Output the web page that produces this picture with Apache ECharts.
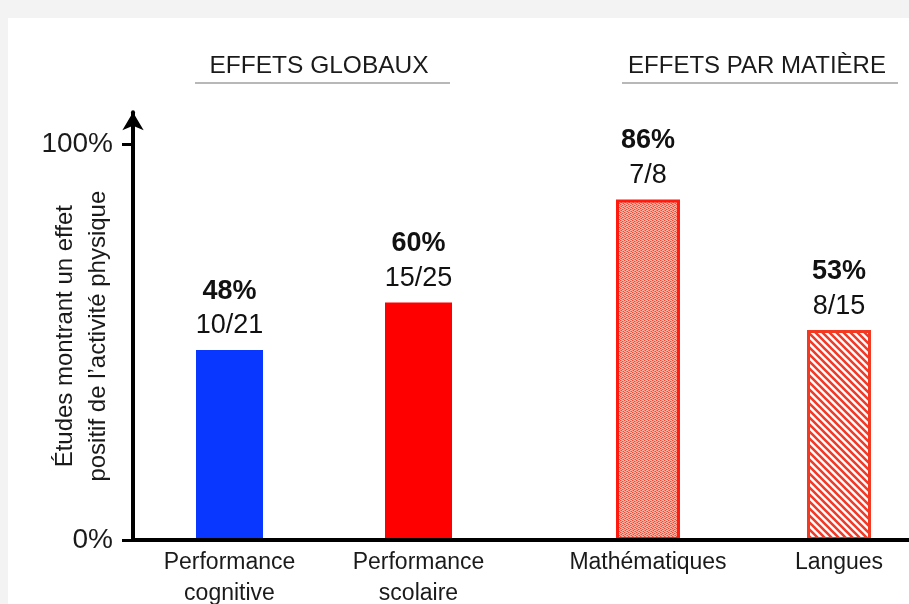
<!DOCTYPE html>
<html>
<head>
<meta charset="utf-8">
<script src="https://cdn.jsdelivr.net/npm/echarts@6/dist/echarts.min.js"></script>
<style>
  html, body { margin: 0; padding: 0; background: #f3f3f3; }
  #panel { position: absolute; left: 8px; top: 18px; right: 0; bottom: 0; background: #ffffff; }
  #chart { position: absolute; left: 0; top: 0; width: 909px; height: 604px; }
</style>
</head>
<body>
<div id="panel"></div>
<div id="chart"></div>
<script>
// ---- data ----
const categoriesGlobal = ['Performance\ncognitive', 'Performance\nscolaire'];
const valuesGlobal = [48, 60];
const fractionsGlobal = ['10/21', '15/25'];
const categoriesSubject = ['Mathématiques', 'Langues'];
const valuesSubject = [86, 53];
const fractionsSubject = ['7/8', '8/15'];
const yTickValues = [0, 100];
const headerTexts = ['EFFETS GLOBAUX', 'EFFETS PAR MATIÈRE'];
const yAxisName = 'Études montrant un effet\npositif de l\u2019activité physique';

// ---- patterns ----
function dotPattern() {
  const c = document.createElement('canvas');
  c.width = 4; c.height = 4;
  const g = c.getContext('2d');
  g.fillStyle = '#f8b2a4';
  g.fillRect(0, 0, 4, 4);
  g.fillStyle = '#ec4a38';
  [[0,0],[2,1],[1,2],[3,3]].forEach(p => g.fillRect(p[0], p[1], 1, 1));
  g.fillStyle = '#f38472';
  [[2,3],[0,2],[3,1],[1,0]].forEach(p => g.fillRect(p[0], p[1], 1, 1));
  return c;
}
function stripePattern() {
  const s = 7;
  const c = document.createElement('canvas');
  c.width = s; c.height = s;
  const g = c.getContext('2d');
  g.fillStyle = '#ffffff';
  g.fillRect(0, 0, s, s);
  g.strokeStyle = '#ef3b2a';
  g.lineWidth = 2.6;
  g.beginPath();
  g.moveTo(-1, -1); g.lineTo(s + 1, s + 1);
  g.moveTo(-1, s - 1); g.lineTo(1, s + 1);
  g.moveTo(s - 1, -1); g.lineTo(s + 1, 1);
  g.stroke();
  return c;
}

const chart = echarts.init(document.getElementById('chart'), null, { renderer: 'canvas' });

const FONT = 'Liberation Sans, Arial, sans-serif';
const Y_MAX = 108;
const BOTTOM = 604 - 540;
const TOP = 540 - 3.96 * Y_MAX;

function labelFmt(fr) {
  return p => '{p|' + p.value + '%}\n{f|' + fr[p.dataIndex] + '}';
}
const labelRich = {
  p: { fontFamily: FONT, fontSize: 27, fontWeight: 'bold', color: '#111', lineHeight: 37 },
  f: { fontFamily: FONT, fontSize: 27, color: '#111', lineHeight: 32 }
};

const catAxis = (gi, data) => ({
  type: 'category', gridIndex: gi, data: data,
  axisLine: { show: false }, axisTick: { show: false },
  axisLabel: { fontFamily: FONT, fontSize: 23, color: '#1a1a1a', lineHeight: 31, margin: 7, interval: 0 }
});
const hiddenY = gi => ({ type: 'value', gridIndex: gi, min: 0, max: Y_MAX, show: false });
const gridBase = { top: TOP, bottom: BOTTOM, containLabel: false, outerBoundsMode: 'none' };

chart.setOption({
  animation: false,
  grid: [
    Object.assign({ left: 135, width: 378 }, gridBase),
    Object.assign({ left: 552.5, width: 382 }, gridBase),
    Object.assign({ left: 133, width: 776 }, gridBase)
  ],
  xAxis: [
    catAxis(0, categoriesGlobal),
    catAxis(1, categoriesSubject),
    { type: 'value', gridIndex: 2, min: 0, max: 1, z: 10,
      axisLine: { show: true, lineStyle: { color: '#000', width: 4 } },
      axisTick: { show: false }, axisLabel: { show: false }, splitLine: { show: false } }
  ],
  yAxis: [
    { type: 'value', gridIndex: 0, min: 0, max: Y_MAX, position: 'left', offset: 2, z: 10,
      name: yAxisName, nameLocation: 'middle', nameGap: 18, nameRotate: 90, nameMoveOverlap: false,
      nameTextStyle: { fontFamily: FONT, fontSize: 24, color: '#1a1a1a', lineHeight: 33, padding: [0, 20, 0, 0] },
      axisLine: { show: true, symbol: ['none', 'arrow'], symbolSize: [16, 18], lineStyle: { color: '#000', width: 4 } },
      axisTick: { show: true, length: 11, customValues: yTickValues, lineStyle: { color: '#000', width: 3 } },
      axisLabel: { customValues: yTickValues, formatter: v => v + '%', fontFamily: FONT, fontSize: 28, color: '#1a1a1a', margin: 20 },
      splitLine: { show: false } },
    hiddenY(1),
    hiddenY(2)
  ],
  series: [
    { type: 'bar', xAxisIndex: 0, yAxisIndex: 0, barWidth: 67,
      data: valuesGlobal.map((v, i) => ({ value: v, itemStyle: { color: i === 0 ? '#0a37ff' : '#ff0000' } })),
      label: { show: true, position: 'top', distance: 8, formatter: labelFmt(fractionsGlobal), rich: labelRich } },
    { type: 'bar', xAxisIndex: 1, yAxisIndex: 1, barWidth: 64, clip: false,
      data: valuesSubject.map((v, i) => ({ value: v, itemStyle: {
        color: { image: i === 0 ? dotPattern() : stripePattern(), repeat: 'repeat' },
        borderColor: i === 0 ? '#ff1a10' : '#f23a22', borderWidth: 3 } })),
      label: { show: true, position: 'top', distance: 8, formatter: labelFmt(fractionsSubject), rich: labelRich } }
  ],
  graphic: [
    { type: 'text', x: 319, y: 66, style: { text: headerTexts[0], fontFamily: FONT, fontSize: 24.5, fill: '#1a1a1a', textAlign: 'center', textVerticalAlign: 'middle' } },
    { type: 'line', shape: { x1: 195, y1: 83, x2: 450, y2: 83 }, style: { stroke: '#a0a0a0', lineWidth: 1.5 } },
    { type: 'text', x: 757, y: 66, style: { text: headerTexts[1], fontFamily: FONT, fontSize: 24, fill: '#1a1a1a', textAlign: 'center', textVerticalAlign: 'middle' } },
    { type: 'line', shape: { x1: 622, y1: 83, x2: 898, y2: 83 }, style: { stroke: '#a0a0a0', lineWidth: 1.5 } }
  ]
});
</script>
</body>
</html>
